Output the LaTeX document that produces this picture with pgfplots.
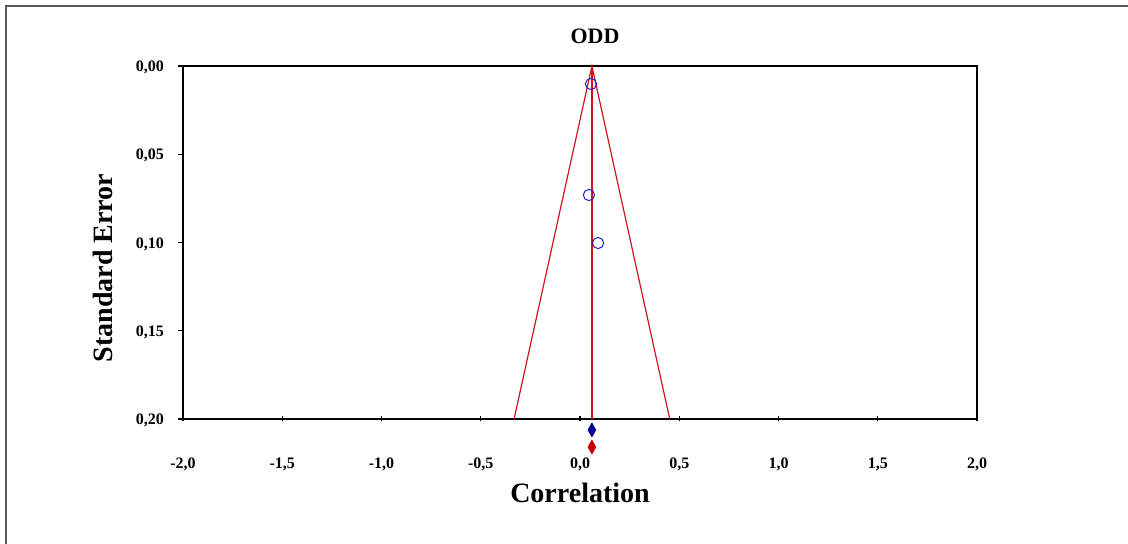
\documentclass[border=0pt]{standalone}
\usepackage{pgfplots}
\pgfplotsset{compat=1.18}
\usepackage{fontspec}
\setmainfont{Liberation Serif}
\definecolor{funred}{RGB}{210,20,30}
\definecolor{ptblue}{RGB}{30,30,200}
\definecolor{dblue}{RGB}{0,0,150}
\definecolor{dred}{RGB}{200,0,0}
\begin{document}
\begin{tikzpicture}[x=1pt,y=1pt]
\useasboundingbox (0,0) rectangle (564,272);
\draw[gray!70!black, line width=1pt] (3,0) -- (3,269) -- (564,269);
\begin{axis}[
  scale only axis,
  width=397pt, height=176.5pt,
  at={(91.5pt,62.5pt)}, anchor=south west,
  xmin=-2, xmax=2, ymin=0, ymax=0.2,
  y dir=reverse,
  xtick={-2,-1.5,...,2},
  ytick={0,0.05,0.1,0.15,0.2},
  xtick pos=bottom, ytick pos=left,
  tick align=outside,
  major tick length=2.5pt,
  x tick style={yshift=1.5pt},
  axis line style={line width=0.75pt},
  tick style={line width=0.6pt, black},
  /pgf/number format/assume math mode=true,
  xticklabel style={/pgf/number format/.cd, fixed, fixed zerofill, precision=1, use comma, /tikz/.cd, font=\bfseries\fontsize{8}{9}\selectfont, yshift=-13.5pt},
  yticklabel style={/pgf/number format/.cd, fixed, fixed zerofill, precision=2, use comma, /tikz/.cd, font=\bfseries\fontsize{8}{9}\selectfont, xshift=-3.5pt, yshift=-0.8pt},
  scaled y ticks=false,
  clip=false,
]
\addplot[funred, line width=0.6pt] coordinates {(-0.332,0.2) (0.06,0) (0.452,0.2)};
\addplot[funred, line width=0.6pt] coordinates {(0.06,0) (0.06,0.2)};
\addplot[only marks, mark=o, mark size=2.8pt, ptblue, mark options={line width=0.5pt}] coordinates {
(0.055,0.0102) (0.045,0.0731) (0.091,0.1003)};
\addplot[only marks, mark=diamond*, mark size=3.4pt, dblue, mark options={xscale=0.75}] coordinates {(0.06,0.2062)};
\addplot[only marks, mark=diamond*, mark size=3.4pt, dred, mark options={xscale=0.75}] coordinates {(0.06,0.2159)};
\end{axis}
\node[font=\bfseries\fontsize{11}{13}\selectfont] at (297.5,254) {ODD};
\node[font=\bfseries\fontsize{14}{16}\selectfont] at (290,25.5) {Correlation};
\node[font=\bfseries\fontsize{14}{16}\selectfont, rotate=90] at (51.5,138) {Standard Error};
\end{tikzpicture}
\end{document}
